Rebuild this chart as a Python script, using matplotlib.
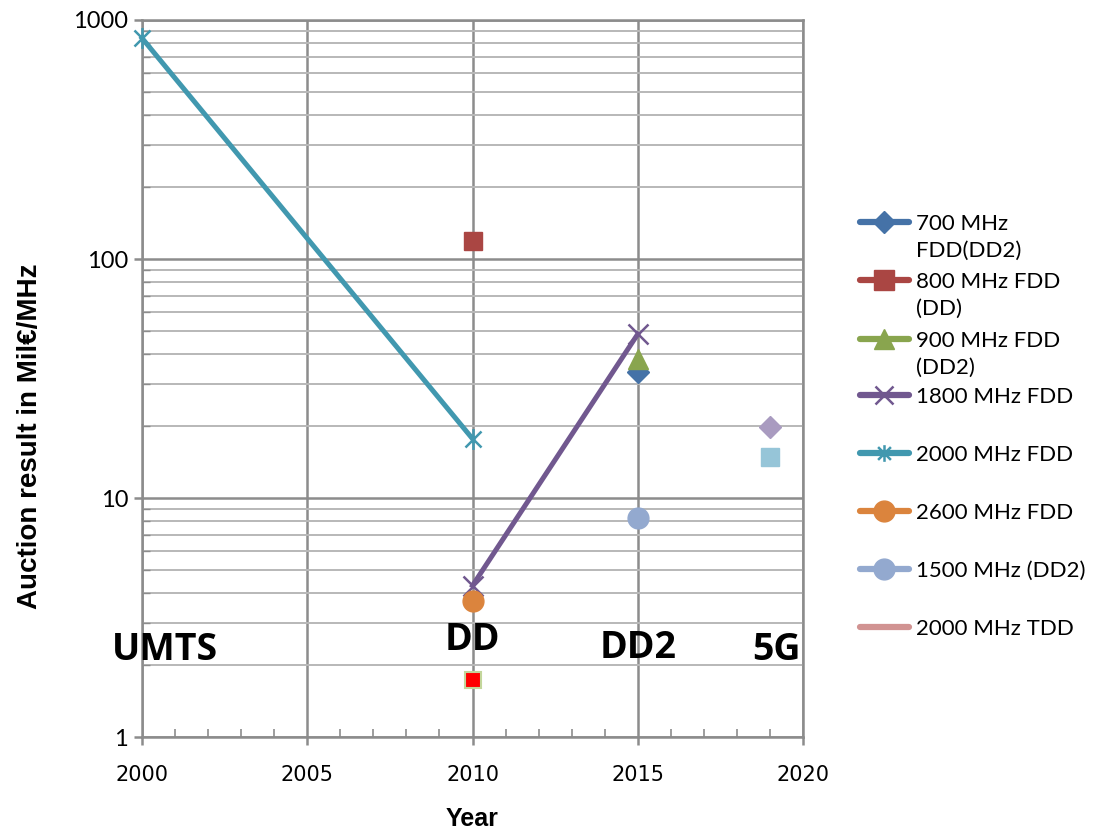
import matplotlib
matplotlib.use("Agg")
import matplotlib.pyplot as plt
from matplotlib.path import Path
from matplotlib.lines import Line2D

# ---- data ----
years_700 = [2015]; vals_700 = [33.7]
years_800 = [2010]; vals_800 = [119]
years_900 = [2015]; vals_900 = [38]
years_1800 = [2010, 2015]; vals_1800 = [4.3, 48.5]
years_2000 = [2000, 2010]; vals_2000 = [840, 17.7]
years_2600 = [2010]; vals_2600 = [3.7]
years_1500 = [2015]; vals_1500 = [8.25]
years_tdd = [2010]; vals_tdd = [1.73]
years_5g_a = [2019]; vals_5g_a = [19.8]
years_5g_b = [2019]; vals_5g_b = [14.9]

legend_labels = ["700 MHz\nFDD(DD2)", "800 MHz FDD\n(DD)", "900 MHz FDD\n(DD2)",
                 "1800 MHz FDD", "2000 MHz FDD", "2600 MHz FDD",
                 "1500 MHz (DD2)", "2000 MHz TDD"]
era_labels = ["UMTS", "DD", "DD2", "5G"]
era_x = [2000.7, 2010.0, 2015.0, 2019.2]
era_y = [2.31, 2.55, 2.36, 2.31]
x_ticks = [2000, 2005, 2010, 2015, 2020]
y_ticks = [1, 10, 100, 1000]

# ---- style ----
C700 = "#4572A7"; C800 = "#AA4643"; C900 = "#89A54E"; C1800 = "#71588F"
C2000 = "#4198AF"; C2600 = "#DB843D"; C1500 = "#93A9CF"; CTDD = "#D19392"
GRID = "#8C8C8C"
GRID_MINOR = "#B8B8B8"

star = Path([(-1, -1), (1, 1), (-1, 1), (1, -1), (0, -1.3), (0, 1.3)],
            [Path.MOVETO, Path.LINETO, Path.MOVETO, Path.LINETO, Path.MOVETO, Path.LINETO])

fig = plt.figure(figsize=(10.99, 8.30), dpi=100)
ax = fig.add_axes([142/1099, 1-737/830, (803-142)/1099, (737-20)/830])
ax.set_yscale("log")
ax.set_xlim(2000, 2020)
ax.set_ylim(1, 1000)

ax.grid(True, which="major", axis="both", color=GRID, lw=1.8)
ax.grid(True, which="minor", axis="y", color=GRID_MINOR, lw=1.4)
ax.set_axisbelow(True)
for s in ax.spines.values():
    s.set_color(GRID); s.set_linewidth(1.8)

ax.set_xticks(x_ticks)
ax.set_xticks(range(2000, 2021), minor=True)
ax.set_yticks(y_ticks)
ax.set_yticklabels([str(v) for v in y_ticks])
ax.tick_params(axis="x", which="major", direction="out", length=6, color=GRID, width=1.8, pad=14)
ax.tick_params(axis="x", which="minor", direction="in", length=6, color=GRID, width=1.2)
ax.tick_params(axis="y", which="major", direction="out", length=6, color=GRID, width=1.8, pad=4)
ax.tick_params(axis="y", which="minor", direction="in", length=6, color=GRID, width=1.0, labelleft=False)
for lab in ax.get_xticklabels():
    lab.set_fontfamily(["DejaVu Sans"]); lab.set_fontsize(15)
for lab in ax.get_yticklabels():
    lab.set_fontfamily(["Lato", "DejaVu Sans"]); lab.set_fontsize(17)

ax.set_xlabel("Year", fontsize=18, fontweight="bold",
              fontfamily=["Liberation Sans", "DejaVu Sans"], labelpad=16)
ax.set_ylabel("Auction result in Mil€/MHz", fontsize=20, fontweight="bold",
              fontfamily=["Liberation Sans", "DejaVu Sans"])
ax.yaxis.set_label_coords(-0.150, 0.42)

# series
ax.plot(years_2000, vals_2000, color=C2000, lw=3.6, marker=star, ms=15, mew=1.8,
        mec=C2000, zorder=4, clip_on=False)
ax.plot(years_1800, vals_1800, color=C1800, lw=3.6, marker="x", ms=14, mew=1.8,
        mec=C1800, zorder=4)
ax.plot(years_800, vals_800, ls="none", marker="s", ms=13, color=C800, zorder=5)
ax.plot(years_2600, vals_2600, ls="none", marker="o", ms=15, color=C2600, zorder=5)
ax.plot(years_900, vals_900, ls="none", marker="^", ms=15, color=C900, zorder=5)
ax.plot(years_700, vals_700, ls="none", marker="D", ms=11, color=C700, zorder=4)
ax.plot(years_1500, vals_1500, ls="none", marker="o", ms=15, color=C1500, zorder=5)
ax.plot(years_tdd, vals_tdd, ls="none", marker="s", ms=12, color="#FF0000",
        mec="#C3D69B", mew=1.5, zorder=5)
ax.plot(years_5g_a, vals_5g_a, ls="none", marker="D", ms=11, color="#A99BC0", zorder=5)
ax.plot(years_5g_b, vals_5g_b, ls="none", marker="s", ms=13, color="#96C5D8", zorder=5)

for t, x, y in zip(era_labels, era_x, era_y):
    ax.text(x, y, t, ha="center", va="center", fontsize=27, fontweight="bold",
            fontfamily=["Open Sans", "DejaVu Sans"], zorder=6)

# legend (drawn manually to mimic spreadsheet layout)
leg_colors = [C700, C800, C900, C1800, C2000, C2600, C1500, CTDD]
leg_markers = [
    dict(marker="D", ms=11),
    dict(marker="s", ms=14),
    dict(marker="^", ms=15),
    dict(marker="x", ms=13, mew=1.8),
    dict(marker=star, ms=12, mew=1.8),
    dict(marker="o", ms=15),
    dict(marker="o", ms=15),
    None,
]
row_y = [222, 280, 339, 395, 453, 511, 569, 627]
for lab, col, mk, py in zip(legend_labels, leg_colors, leg_markers, row_y):
    yf = 1 - py/830
    fig.add_artist(Line2D([860/1099, 909/1099], [yf, yf], transform=fig.transFigure,
                          lw=4.5, color=col, solid_capstyle="round"))
    if mk is not None:
        fig.add_artist(Line2D([884/1099], [yf], transform=fig.transFigure, ls="none",
                              color=col, mec=col, **mk))
    fig.text(916/1099, yf + 8/830, lab, ha="left", va="top", fontsize=16,
             fontfamily=["Lato", "DejaVu Sans"], linespacing=1.45)

fig.savefig("out.png", dpi=100)
